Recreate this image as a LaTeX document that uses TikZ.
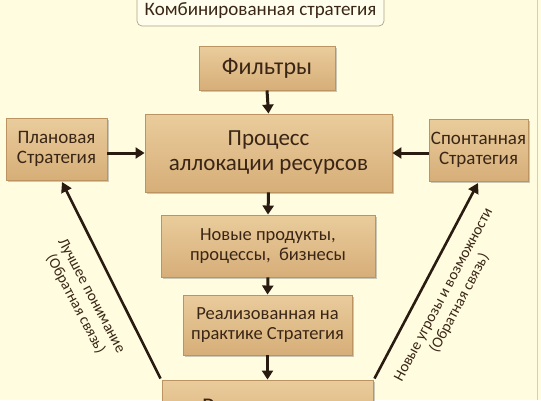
\documentclass[tikz,border=0pt]{standalone}
\usepackage{fontspec}
\setmainfont{Carlito}
\usetikzlibrary{arrows.meta,shadows}
\definecolor{bgc}{RGB}{255,252,224}
\definecolor{boxtop}{RGB}{234,204,156}
\definecolor{boxbot}{RGB}{214,174,120}
\definecolor{boxedge}{RGB}{188,148,98}
\definecolor{txt}{RGB}{58,38,22}
\definecolor{arr}{RGB}{42,27,16}
\definecolor{titlefill}{RGB}{255,253,236}
\definecolor{titleedge}{RGB}{175,165,135}
\definecolor{sideline}{RGB}{225,205,160}
\tikzset{
  boxnode/.style={draw=boxedge, line width=0.9pt, top color=boxtop, bottom color=boxbot,
    text=txt, align=center, inner sep=0pt,
    drop shadow={opacity=0.35, shadow xshift=1.5pt, shadow yshift=-1.8pt, fill=black!60}},
  bigtext/.style={font=\fontsize{23}{25}\selectfont},
  smalltext/.style={font=\fontsize{18.5}{20.5}\selectfont},
  sidetext/.style={font=\fontsize{19}{20.5}\selectfont},
  arrowline/.style={draw=arr, line width=3pt, -{Triangle[length=9pt,width=11pt]}},
  fbline/.style={draw=arr, line width=2.6pt, -{Triangle[length=10pt,width=11pt]}},
  fblabel/.style={text=txt, align=center, font=\fontsize{15.3}{18}\selectfont, inner sep=0pt},
}
\begin{document}
\begin{tikzpicture}[x=1pt,y=-1pt]
\useasboundingbox (0,0) rectangle (541,400);
\clip (0,0) rectangle (541,400);
\fill[bgc] (0,0) rectangle (541,400);
\draw[sideline, line width=1.5pt] (537.5,0) -- (537.5,400);

\node[draw=titleedge, line width=0.7pt, fill=titlefill, rounded corners=5pt,
  minimum width=247pt, minimum height=31pt, inner sep=0pt, text=txt,
  font=\fontsize{19}{21}\selectfont] (title) at (260.5,10.5) {\raisebox{-2.5pt}{Комбинированная стратегия}};

\node[boxnode, font=\fontsize{24}{26}\selectfont, minimum width=136pt, minimum height=44pt] (filt) at (267,68) {Фильтры};
\node[boxnode, bigtext, minimum width=247pt, minimum height=78pt] (proc) at (268.5,153) {Процесс\\аллокации ресурсов};
\node[boxnode, sidetext, minimum width=101pt, minimum height=62pt] (plan) at (56.5,149) {Плановая\\Стратегия};
\node[boxnode, sidetext, minimum width=99pt, minimum height=62pt] (spon) at (478.5,150) {Спонтанная\\Стратегия};
\node[boxnode, smalltext, minimum width=214pt, minimum height=62pt] (newp) at (268,246) {Новые продукты,\\процессы,\ \ бизнесы};
\node[boxnode, smalltext, minimum width=169pt, minimum height=60pt] (real) at (267.5,325) {Реализованная на\\практике Стратегия};
\node[boxnode, minimum width=211pt, minimum height=60pt] (bot) at (267.5,410) {};
\node[text=txt, font=\fontsize{24}{26}\selectfont, anchor=base west, inner sep=0pt] (bottext) at (202,414) {Результаты};

\draw[arrowline] (filt.south) -- (proc.north);
\draw[arrowline] (proc.south) -- (newp.north);
\draw[arrowline] (newp.south) -- (real.north);
\draw[arrowline] (real.south) -- (bot.north);
\draw[arrowline] (plan.east |- proc.west) -- (proc.west);
\draw[arrowline] (spon.west |- proc.east) -- (proc.east);

\coordinate (ltip) at (62,182);
\coordinate (rtip) at (478,183);
\draw[fbline] ([xshift=-1pt,yshift=1pt]bot.north west) -- (ltip);
\draw[fbline] ([xshift=1pt,yshift=1pt]bot.north east) -- (rtip);

\node[fblabel, rotate=-62] (llab) at (83,300) {Лучшее понимание\\(Обратная связь)};
\node[fblabel, rotate=62] (rlab) at (452,299) {Новые угрозы и возможности\\(Обратная связь)};
\end{tikzpicture}
\end{document}
